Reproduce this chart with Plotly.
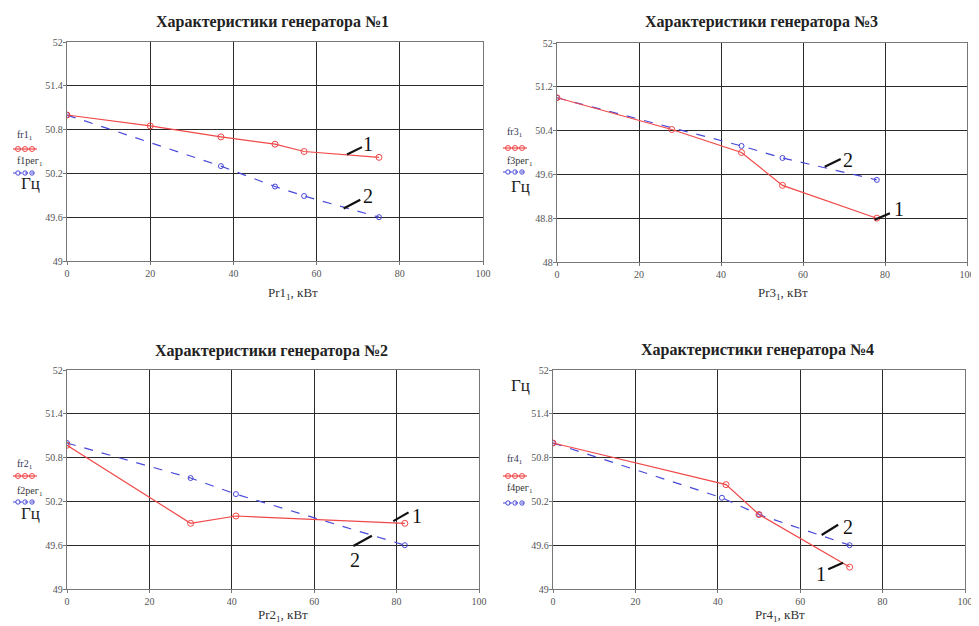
import plotly.graph_objects as go

# ---------------- data ----------------
p1_red_x = [0, 20, 37, 50, 57, 75]
p1_red_y = [51.0, 50.85, 50.70, 50.60, 50.50, 50.42]
p1_blue_x = [0, 37, 50, 57, 75]
p1_blue_y = [51.0, 50.30, 50.02, 49.89, 49.60]

p3_red_x = [0, 28, 45, 55, 78]
p3_red_y = [51.0, 50.42, 50.0, 49.4, 48.8]
p3_blue_x = [0, 45, 55, 78]
p3_blue_y = [51.0, 50.12, 49.9, 49.5]

p2_red_x = [0, 30, 41, 82]
p2_red_y = [50.97, 49.9, 50.0, 49.9]
p2_blue_x = [0, 30, 41, 82]
p2_blue_y = [51.0, 50.52, 50.3, 49.6]

p4_red_x = [0, 42, 50, 72]
p4_red_y = [51.0, 50.43, 50.02, 49.3]
p4_blue_x = [0, 41, 50, 72]
p4_blue_y = [51.0, 50.25, 50.02, 49.6]

x_ticks = [0, 20, 40, 60, 80, 100]
y_ticks_a = [49, 49.6, 50.2, 50.8, 51.4, 52]
y_ticks_b = [48, 48.8, 49.6, 50.4, 51.2, 52]

titles = ["Характеристики генератора №1", "Характеристики генератора №3",
          "Характеристики генератора №2", "Характеристики генератора №4"]
xtitles = ["Pr1<sub>1</sub>, кВт", "Pr3<sub>1</sub>, кВт",
           "Pr2<sub>1</sub>, кВт", "Pr4<sub>1</sub>, кВт"]
red_names = ["fr1<sub>1</sub>", "fr3<sub>1</sub>", "fr2<sub>1</sub>", "fr4<sub>1</sub>"]
blue_names = ["f1рег<sub>1</sub>", "f3рег<sub>1</sub>", "f2рег<sub>1</sub>", "f4рег<sub>1</sub>"]

# ---------------- layout geometry (pixels of the 979x626 window) ----------------
OFF = 8                      # default page body margin
W, H = 979 - OFF, 626 - OFF  # figure size so that it ends at the window edge
SERIF = "Liberation Serif, Times New Roman, serif"
RED = "#f04848"
BLUE = "#4848d8"
GRID = "#2a2a2a"

def px(x):
    return (x - OFF) / W

def py(y):
    return 1 - (y - OFF) / H

panels = [
    # (x0, x1, ytop, ybot) in window pixels
    (67, 483, 42, 261),
    (557, 967, 43, 262),
    (67, 479, 370, 589),
    (553, 965, 370, 589),
]
yticks_list = [y_ticks_a, y_ticks_b, y_ticks_a, y_ticks_a]
series = [
    (p1_red_x, p1_red_y, p1_blue_x, p1_blue_y),
    (p3_red_x, p3_red_y, p3_blue_x, p3_blue_y),
    (p2_red_x, p2_red_y, p2_blue_x, p2_blue_y),
    (p4_red_x, p4_red_y, p4_blue_x, p4_blue_y),
]

fig = go.Figure()
layout = dict(
    width=W, height=H, autosize=False,
    margin=dict(l=0, r=0, t=0, b=0, pad=0, autoexpand=False),
    paper_bgcolor="white", plot_bgcolor="white", showlegend=False,
    font=dict(family=SERIF, color="#000"),
)

for i, ((x0, x1, yt, yb), yt_vals, (rx, ry, bx, by)) in enumerate(zip(panels, yticks_list, series)):
    n = "" if i == 0 else str(i + 1)
    xa = "x" + n
    ya = "y" + n
    fig.add_trace(go.Scatter(x=bx, y=by, xaxis=xa, yaxis=ya, mode="lines+markers",
                             line=dict(color=BLUE, width=1.2, dash="dash"),
                             marker=dict(symbol="circle-open", size=5, color=BLUE, line=dict(width=1))))
    fig.add_trace(go.Scatter(x=rx, y=ry, xaxis=xa, yaxis=ya, mode="lines+markers",
                             line=dict(color=RED, width=1.2),
                             marker=dict(symbol="circle-open", size=6, color=RED, line=dict(width=1))))
    ax_common = dict(showgrid=True, gridcolor=GRID, gridwidth=1.3, zeroline=False,
                     showline=True, linecolor="#777", linewidth=1.3, mirror=True,
                     ticks="outside", ticklen=3, tickcolor="#777", automargin=False,
                     tickfont=dict(family=SERIF, size=10, color="#555"))
    layout["xaxis" + n] = dict(ax_common, domain=[px(x0), px(x1)], range=[0, 100],
                               tickvals=x_ticks, anchor=ya)
    layout["yaxis" + n] = dict(ax_common, domain=[py(yb), py(yt)], range=[yt_vals[0], yt_vals[-1]],
                               tickvals=yt_vals, anchor=xa, ticklabelstandoff=-2)

fig.update_layout(**layout)

# titles and x-axis titles
title_pos = [(272, 22), (761, 22), (271, 351), (757, 350)]
xtitle_pos = [(293, 293), (783, 293), (283, 615), (780, 615)]
for t, (tx, ty) in zip(titles, title_pos):
    fig.add_annotation(text="<b>" + t + "</b>", x=px(tx), y=py(ty), xref="paper", yref="paper",
                       xanchor="center", yanchor="middle",
                       showarrow=False, font=dict(family=SERIF, size=16, color="#222"))
for t, (tx, ty) in zip(xtitles, xtitle_pos):
    fig.add_annotation(text=t, x=px(tx), y=py(ty), xref="paper", yref="paper",
                       xanchor="center", yanchor="middle",
                       showarrow=False, font=dict(family=SERIF, size=13, color="#333"))

# legend-like labels at the left of each panel (window pixel positions)
legend_pos = [
    # x_left, y_red_name, y_red_line, y_blue_name, y_blue_line, (hz_x, hz_y)
    (13, 136, 149, 161, 173, (30, 184)),
    (503, 133, 148, 161, 172, (520, 186)),
    (13, 464, 476, 491, 502, (30, 513)),
    (503, 459, 476, 488, 503, (520, 385)),
]
shapes = []
for (xl, yrn, yrl, ybn, ybl, (hx, hy)), rn, bn in zip(legend_pos, red_names, blue_names):
    fig.add_annotation(text=rn, x=px(xl + 2), y=py(yrn), xref="paper", yref="paper",
                       xanchor="left", yanchor="middle",
                       showarrow=False, font=dict(family=SERIF, size=10, color="#335"))
    fig.add_annotation(text=bn, x=px(xl + 2), y=py(ybn), xref="paper", yref="paper",
                       xanchor="left", yanchor="middle",
                       showarrow=False, font=dict(family=SERIF, size=10, color="#333"))
    fig.add_annotation(text="Гц", x=px(hx), y=py(hy), xref="paper", yref="paper",
                       xanchor="center", yanchor="middle",
                       showarrow=False, font=dict(family=SERIF, size=17, color="#222"))
    shapes.append(dict(type="line", xref="paper", yref="paper", x0=px(xl), x1=px(xl + 24),
                       y0=py(yrl), y1=py(yrl), line=dict(color=RED, width=1.2)))
    shapes.append(dict(type="line", xref="paper", yref="paper", x0=px(xl), x1=px(xl + 24),
                       y0=py(ybl), y1=py(ybl), line=dict(color=BLUE, width=1.2, dash="dot")))
    for k in range(3):
        cx = xl + 5 + k * 7
        shapes.append(dict(type="circle", xref="paper", yref="paper",
                           x0=px(cx - 2.5), x1=px(cx + 2.5), y0=py(yrl + 2.5), y1=py(yrl - 2.5),
                           line=dict(color=RED, width=1)))
        shapes.append(dict(type="circle", xref="paper", yref="paper",
                           x0=px(cx - 2.2), x1=px(cx + 2.2), y0=py(ybl + 2.2), y1=py(ybl - 2.2),
                           line=dict(color=BLUE, width=1)))

# curve number labels with leader strokes (data coordinates of each panel)
labels = [
    # axis suffix, text, label x, label y, leader x0, y0, x1, y1
    ("", "1", 72.4, 50.60, 67.3, 50.46, 70.9, 50.56),
    ("", "2", 72.4, 49.89, 66.5, 49.72, 70.5, 49.84),
    ("2", "2", 71.0, 49.86, 65.3, 49.74, 69.2, 49.88),
    ("2", "1", 83.5, 48.96, 77.5, 48.77, 81.2, 48.89),
    ("3", "1", 85.0, 50.00, 79.2, 49.93, 82.9, 50.05),
    ("3", "2", 70.0, 49.40, 69.5, 49.59, 74.0, 49.73),
    ("4", "2", 71.5, 49.85, 65.2, 49.74, 69.2, 49.88),
    ("4", "1", 65.0, 49.20, 66.8, 49.27, 70.4, 49.36),
]
for suf, t, lx, ly, a0, b0, a1, b1 in labels:
    fig.add_annotation(text=t, x=lx, y=ly, xref="x" + suf, yref="y" + suf, showarrow=False,
                       xanchor="center", yanchor="middle",
                       font=dict(family=SERIF, size=20, color="#111"))
    shapes.append(dict(type="line", xref="x" + suf, yref="y" + suf, x0=a0, y0=b0, x1=a1, y1=b1,
                       line=dict(color="#111", width=2.2)))

fig.update_layout(shapes=shapes)
fig.write_html("out.html")
